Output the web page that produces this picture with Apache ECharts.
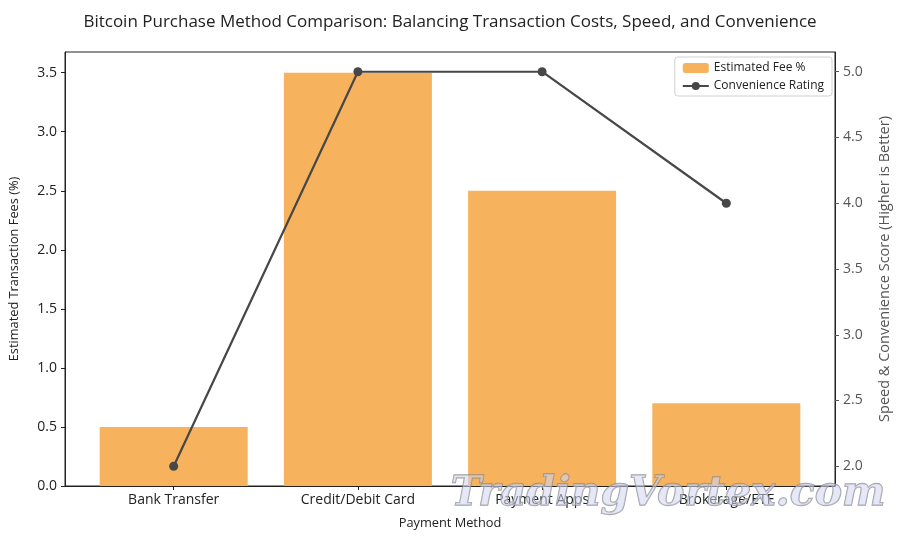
<!DOCTYPE html>
<html>
<head>
<meta charset="utf-8">
<script src="https://cdn.jsdelivr.net/npm/echarts@6/dist/echarts.min.js"></script>
<style>
  html, body { margin: 0; padding: 0; background: #fff; }
  #chart { width: 900px; height: 540px; }
</style>
</head>
<body>
<div id="chart"></div>
<script>
// data
var methods = ["Bank Transfer", "Credit/Debit Card", "Payment Apps", "Brokerage/ETF"];
var feePct = [0.5, 3.5, 2.5, 0.7];
var convenience = [2, 5, 5, 4];
var feeTicks = [0, 0.5, 1, 1.5, 2, 2.5, 3, 3.5];
var scoreTicks = [2, 2.5, 3, 3.5, 4, 4.5, 5];

var font = "'Open Sans', Roboto, sans-serif";
var chart = echarts.init(document.getElementById("chart"));

var option = {
  backgroundColor: "#fff",
  textStyle: { fontFamily: font },
  title: {
    text: "Bitcoin Purchase Method Comparison: Balancing Transaction Costs, Speed, and Convenience",
    left: "center",
    top: 9,
    textStyle: { fontSize: 17, fontWeight: "normal", color: "#222", fontFamily: font }
  },
  legend: {
    orient: "vertical",
    right: 68,
    top: 57,
    itemWidth: 26,
    itemHeight: 10,
    itemGap: 6,
    padding: [5, 8, 4, 7],
    borderColor: "#d0d0d0",
    borderWidth: 1,
    borderRadius: 3,
    textStyle: { fontSize: 12, color: "#222" },
    data: ["Estimated Fee %", "Convenience Rating"]
  },
  grid: {
    left: 63, right: 63, top: 52, bottom: 54,
    show: true, borderColor: "#222", borderWidth: 1
  },
  xAxis: {
    type: "value",
    min: -0.59,
    max: 3.59,
    name: "Payment Method",
    nameLocation: "middle",
    nameGap: 31,
    nameTextStyle: { fontSize: 12.8, color: "#222" },
    splitLine: { show: false },
    axisLine: { show: true, onZero: false, lineStyle: { color: "#222" } },
    axisTick: { show: true, customValues: [0, 1, 2, 3], length: 4, lineStyle: { color: "#222" } },
    axisLabel: {
      customValues: [0, 1, 2, 3],
      fontSize: 14,
      color: "#222",
      margin: 7,
      formatter: function (v) { return methods[Math.round(v)]; }
    }
  },
  yAxis: [
    {
      type: "value",
      min: 0,
      max: 3.675,
      name: "Estimated Transaction Fees (%)",
      nameLocation: "middle",
      nameGap: 44,
      nameTextStyle: { fontSize: 12.8, color: "#222" },
      splitLine: { show: false },
      axisLine: { show: true, onZero: false, lineStyle: { color: "#222" } },
      axisTick: { show: true, customValues: feeTicks, length: 4, lineStyle: { color: "#222" } },
      axisLabel: {
        customValues: feeTicks,
        fontSize: 14,
        color: "#222",
        formatter: function (v) { return v.toFixed(1); }
      }
    },
    {
      type: "value",
      min: 1.85,
      max: 5.15,
      position: "right",
      name: "Speed & Convenience Score (Higher is Better)",
      nameLocation: "middle",
      nameGap: 42,
      nameRotate: 90,
      nameTextStyle: { fontSize: 14.5, color: "#555" },
      splitLine: { show: false },
      axisLine: { show: true, onZero: false, lineStyle: { color: "#222" } },
      axisTick: { show: true, customValues: scoreTicks, length: 4, lineStyle: { color: "#555" } },
      axisLabel: {
        customValues: scoreTicks,
        fontSize: 14,
        color: "#555",
        formatter: function (v) { return v.toFixed(1); }
      }
    }
  ],
  series: [
    {
      name: "Estimated Fee %",
      type: "bar",
      yAxisIndex: 0,
      barWidth: 148,
      itemStyle: { color: "#F7B25D" },
      data: feePct.map(function (v, i) { return [i, v]; })
    },
    {
      name: "Convenience Rating",
      type: "line",
      yAxisIndex: 1,
      symbol: "circle",
      symbolSize: 9,
      lineStyle: { color: "#474747", width: 2.2 },
      itemStyle: { color: "#474747" },
      data: convenience.map(function (v, i) { return [i, v]; })
    }
  ],
  graphic: [
    {
      type: "text",
      left: 450,
      top: 473,
      z: 100,
      style: {
        text: "TradingVortex.com",
        font: "italic bold 41px 'DejaVu Serif', 'Liberation Serif', serif",
        fill: "rgba(210,214,240,0.55)",
        stroke: "rgba(130,130,130,0.75)",
        lineWidth: 1.3
      }
    }
  ]
};

chart.setOption(option);
</script>
</body>
</html>
